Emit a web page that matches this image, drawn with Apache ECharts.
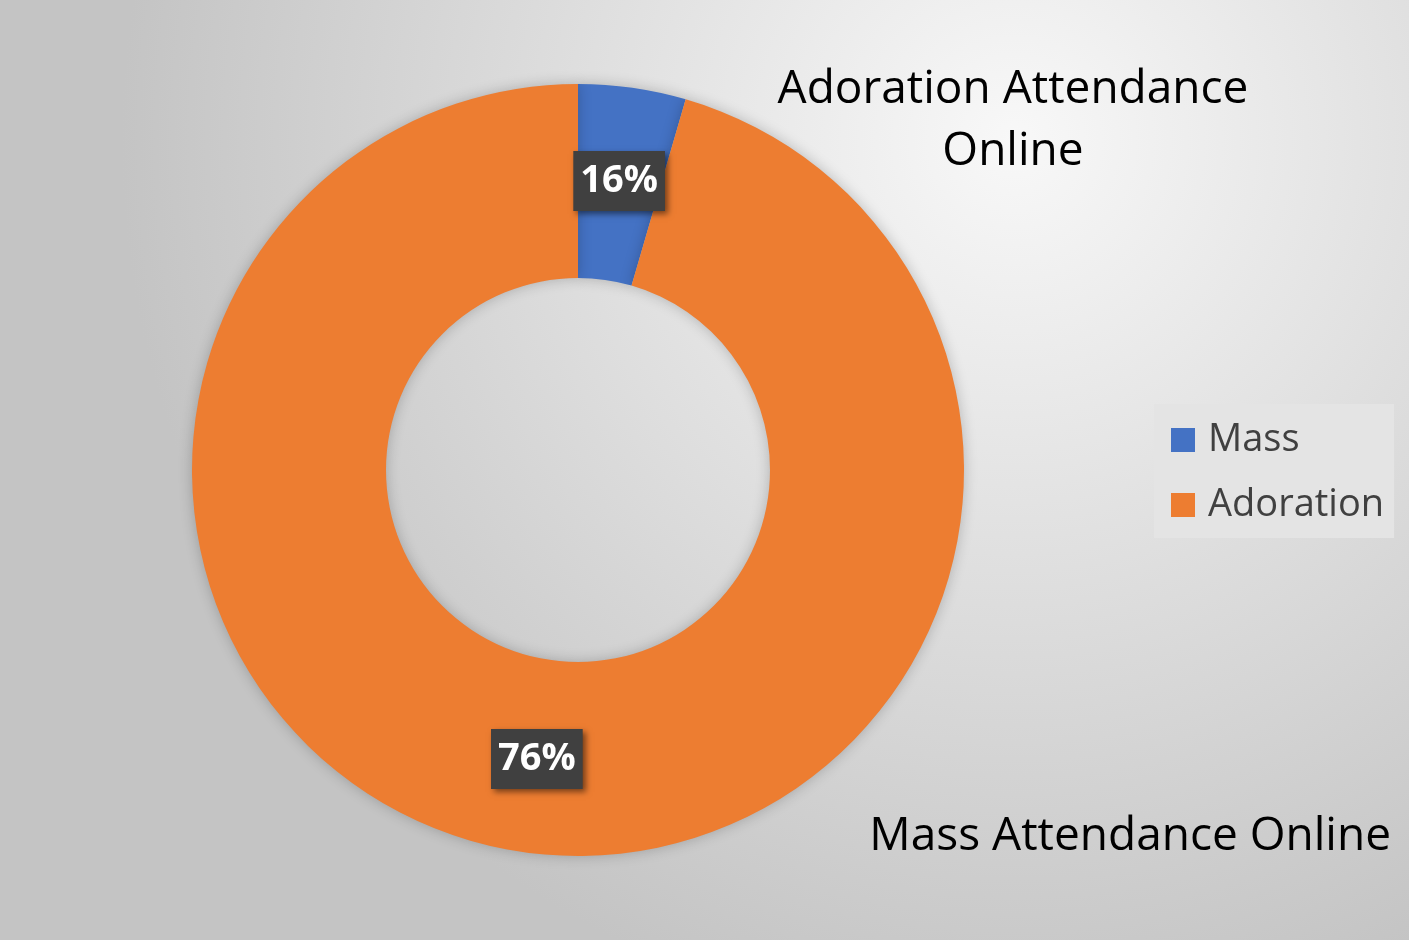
<!DOCTYPE html>
<html>
<head>
<meta charset="utf-8">
<script src="https://cdn.jsdelivr.net/npm/echarts@6/dist/echarts.min.js"></script>
<style>html,body{margin:0;padding:0;}#chart{width:1409px;height:940px;}</style>
</head>
<body>
<div id="chart"></div>
<script>
const categories = ['Mass', 'Adoration'];
const values = [4.5, 95.5];
const labelTexts = ['16%', '76%'];
const colors = ['#4472C4', '#ED7D31'];
const titleTop = 'Adoration Attendance\nOnline';
const titleBottom = 'Mass Attendance Online';

const chart = echarts.init(document.getElementById('chart'));
const FONT = '"Open Sans", "Noto Sans", sans-serif';
chart.setOption({
  backgroundColor: {
    type: 'radial', x: 0.72, y: 0.15, r: 0.95,
    colorStops: [{offset: 0, color: '#f8f8f8'}, {offset: 1, color: '#c4c4c4'}]
  },
  title: [
    {text: titleTop, left: 1008, top: 54, textAlign: 'center',
     textStyle: {fontFamily: FONT, fontSize: 46, fontWeight: 'normal', color: '#000', lineHeight: 62, align: 'center'}},
    {text: titleBottom, left: 1386, top: 801, textAlign: 'right',
     textStyle: {fontFamily: FONT, fontSize: 46, fontWeight: 'normal', color: '#000', lineHeight: 62}}
  ],
  legend: {
    orient: 'vertical', left: 1154, top: 404,
    padding: [17, 10, 14, 17],
    backgroundColor: '#e4e4e4',
    itemWidth: 24, itemHeight: 24, itemGap: 27, icon: 'rect',
    textStyle: {fontFamily: FONT, fontSize: 38, lineHeight: 38, color: '#404040', padding: [0, 0, 0, 8]},
    data: categories
  },
  series: [{
    type: 'pie',
    center: [578, 470],
    radius: [192, 386],
    startAngle: 90,
    clockwise: true,
    silent: true,
    itemStyle: {shadowBlur: 14, shadowColor: 'rgba(0,0,0,0.22)'},
    label: {
      show: true, position: 'inside',
      formatter: p => labelTexts[p.dataIndex],
      fontFamily: FONT, fontSize: 38, fontWeight: 'bold', color: '#fff',
      backgroundColor: '#404040', padding: [12, 7, 10, 7],
      shadowBlur: 6, shadowColor: 'rgba(0,0,0,0.5)', shadowOffsetX: 3, shadowOffsetY: 3
    },
    labelLine: {show: false},
    data: categories.map((c, i) => ({name: c, value: values[i], itemStyle: {color: colors[i]}}))
  }]
});
</script>
</body>
</html>
